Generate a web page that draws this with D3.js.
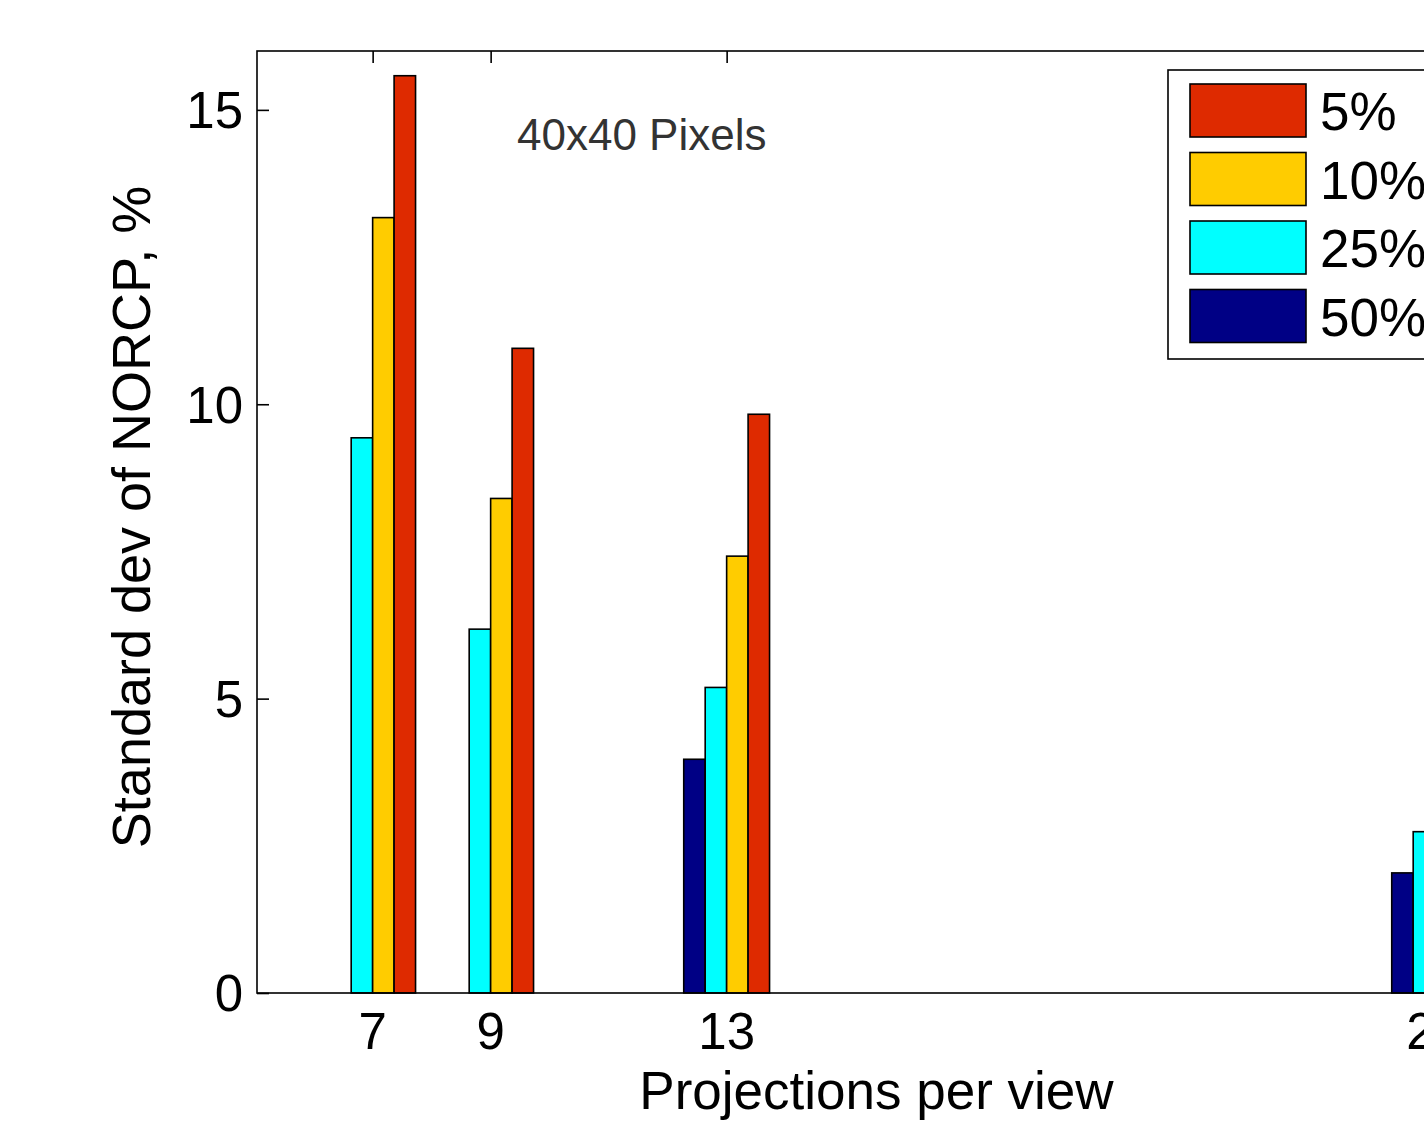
<!DOCTYPE html>
<html>
<head>
<meta charset="utf-8">
<script src="https://cdn.jsdelivr.net/npm/d3@7"></script>
<style>
  html, body { margin: 0; padding: 0; background: #fff; overflow: hidden; }
  svg { display: block; }
  text { font-family: "Liberation Sans", Arial, Helvetica, sans-serif; }
</style>
</head>
<body>
<div id="chart"></div>
<script>
// data
const projections = [7, 9, 13, 25];
const seriesNames = ['50%', '25%', '10%', '5%'];
const values50 = [null, null, 3.97, 2.04];
const values25 = [9.43, 6.18, 5.19, 2.74];
const values10 = [13.17, 8.40, 7.42, 3.40];
const values5 = [15.58, 10.95, 9.83, 4.20];
const yTicks = [0, 5, 10, 15];
const titleText = '40x40 Pixels';
const xLabel = 'Projections per view';
const yLabel = 'Standard dev of NORCP, %';

const seriesValues = [values50, values25, values10, values5];
const colors = ['#000085', '#00FFFF', '#FFCC00', '#DE2A00'];

const width = 1424, height = 1124;
const margin = { left: 257, top: 51, bottom: 993 };
const axisRight = 1496;

const svg = d3.select('#chart')
    .append('svg')
    .attr('width', width)
    .attr('height', height);

svg.append('rect').attr('width', width).attr('height', height).attr('fill', '#fff');

// scales (linear x like matlab's bar with numeric x)
const x = d3.scaleLinear().domain([5.04, 26.04]).range([margin.left, axisRight]);
const y = d3.scaleLinear().domain([0, 16]).range([margin.bottom, margin.top]);

// group width = 0.727 * min spacing (2)
const groupWidth = 2 * 4 / 5.5;
const barW = groupWidth / seriesNames.length;

// bars
seriesValues.forEach((vals, si) => {
    const rows = projections.map((p, i) => ({ p, v: vals[i] })).filter(d => d.v != null);
    svg.append('g').selectAll('rect')
        .data(rows)
        .enter()
        .append('rect')
        .attr('x', d => x(d.p - groupWidth / 2 + si * barW))
        .attr('width', d => x(d.p - groupWidth / 2 + (si + 1) * barW) - x(d.p - groupWidth / 2 + si * barW))
        .attr('y', d => y(d.v))
        .attr('height', d => y(0) - y(d.v))
        .attr('fill', colors[si])
        .attr('stroke', '#000')
        .attr('stroke-width', 1.6);
});

// axes box
const axisG = svg.append('g').attr('stroke', '#000').attr('stroke-width', 1.6).attr('fill', 'none');
axisG.append('rect')
    .attr('x', margin.left)
    .attr('y', margin.top)
    .attr('width', axisRight - margin.left)
    .attr('height', margin.bottom - margin.top);

// y axis (ticks inward)
const yAxis = d3.axisRight(y).tickValues(yTicks).tickSize(12).tickFormat('');
const yg = svg.append('g').attr('transform', `translate(${margin.left},0)`).call(yAxis);
yg.select('.domain').remove();
yg.selectAll('line').attr('stroke-width', 1.6);

svg.append('g').selectAll('text')
    .data(yTicks)
    .enter()
    .append('text')
    .attr('x', margin.left - 14)
    .attr('y', d => y(d))
    .attr('dy', '0.36em')
    .attr('text-anchor', 'end')
    .style('font-size', '51px')
    .text(d => d);

// x axis ticks (top, inward) and labels
const xTop = d3.axisBottom(x).tickValues(projections).tickSize(12).tickFormat('');
const xg = svg.append('g').attr('transform', `translate(0,${margin.top})`).call(xTop);
xg.select('.domain').remove();
xg.selectAll('line').attr('stroke-width', 1.6);

svg.append('g').selectAll('text')
    .data(projections)
    .enter()
    .append('text')
    .attr('x', d => x(d))
    .attr('y', margin.bottom + 56)
    .attr('text-anchor', 'middle')
    .style('font-size', '51px')
    .text(d => d);

// inner title
svg.append('text')
    .attr('x', 517)
    .attr('y', 150)
    .attr('fill', '#333')
    .style('font-size', '44px')
    .text(titleText);

// axis labels
svg.append('text')
    .attr('x', (margin.left + axisRight) / 2)
    .attr('y', 1109)
    .attr('text-anchor', 'middle')
    .style('font-size', '53px')
    .text(xLabel);

svg.append('text')
    .attr('transform', `translate(150,${(margin.top + margin.bottom) / 2 - 5}) rotate(-90)`)
    .attr('text-anchor', 'middle')
    .style('font-size', '54px')
    .text(yLabel);

// legend (top series first, like matlab's reversed order)
const legendItems = seriesNames.map((n, i) => ({ name: n, color: colors[i] })).reverse();
const lg = svg.append('g').attr('transform', 'translate(1168,70)');
lg.append('rect')
    .attr('width', 330)
    .attr('height', 289)
    .attr('fill', '#fff')
    .attr('stroke', '#000')
    .attr('stroke-width', 1.6);
const item = lg.selectAll('g.item')
    .data(legendItems)
    .enter()
    .append('g')
    .attr('class', 'item')
    .attr('transform', (d, i) => `translate(22,${14 + i * 68.5})`);
item.append('rect')
    .attr('width', 116)
    .attr('height', 53)
    .attr('fill', d => d.color)
    .attr('stroke', '#000')
    .attr('stroke-width', 1.6);
item.append('text')
    .attr('x', 130)
    .attr('y', 27)
    .attr('dy', '0.36em')
    .style('font-size', '53px')
    .text(d => d.name);
</script>
</body>
</html>
